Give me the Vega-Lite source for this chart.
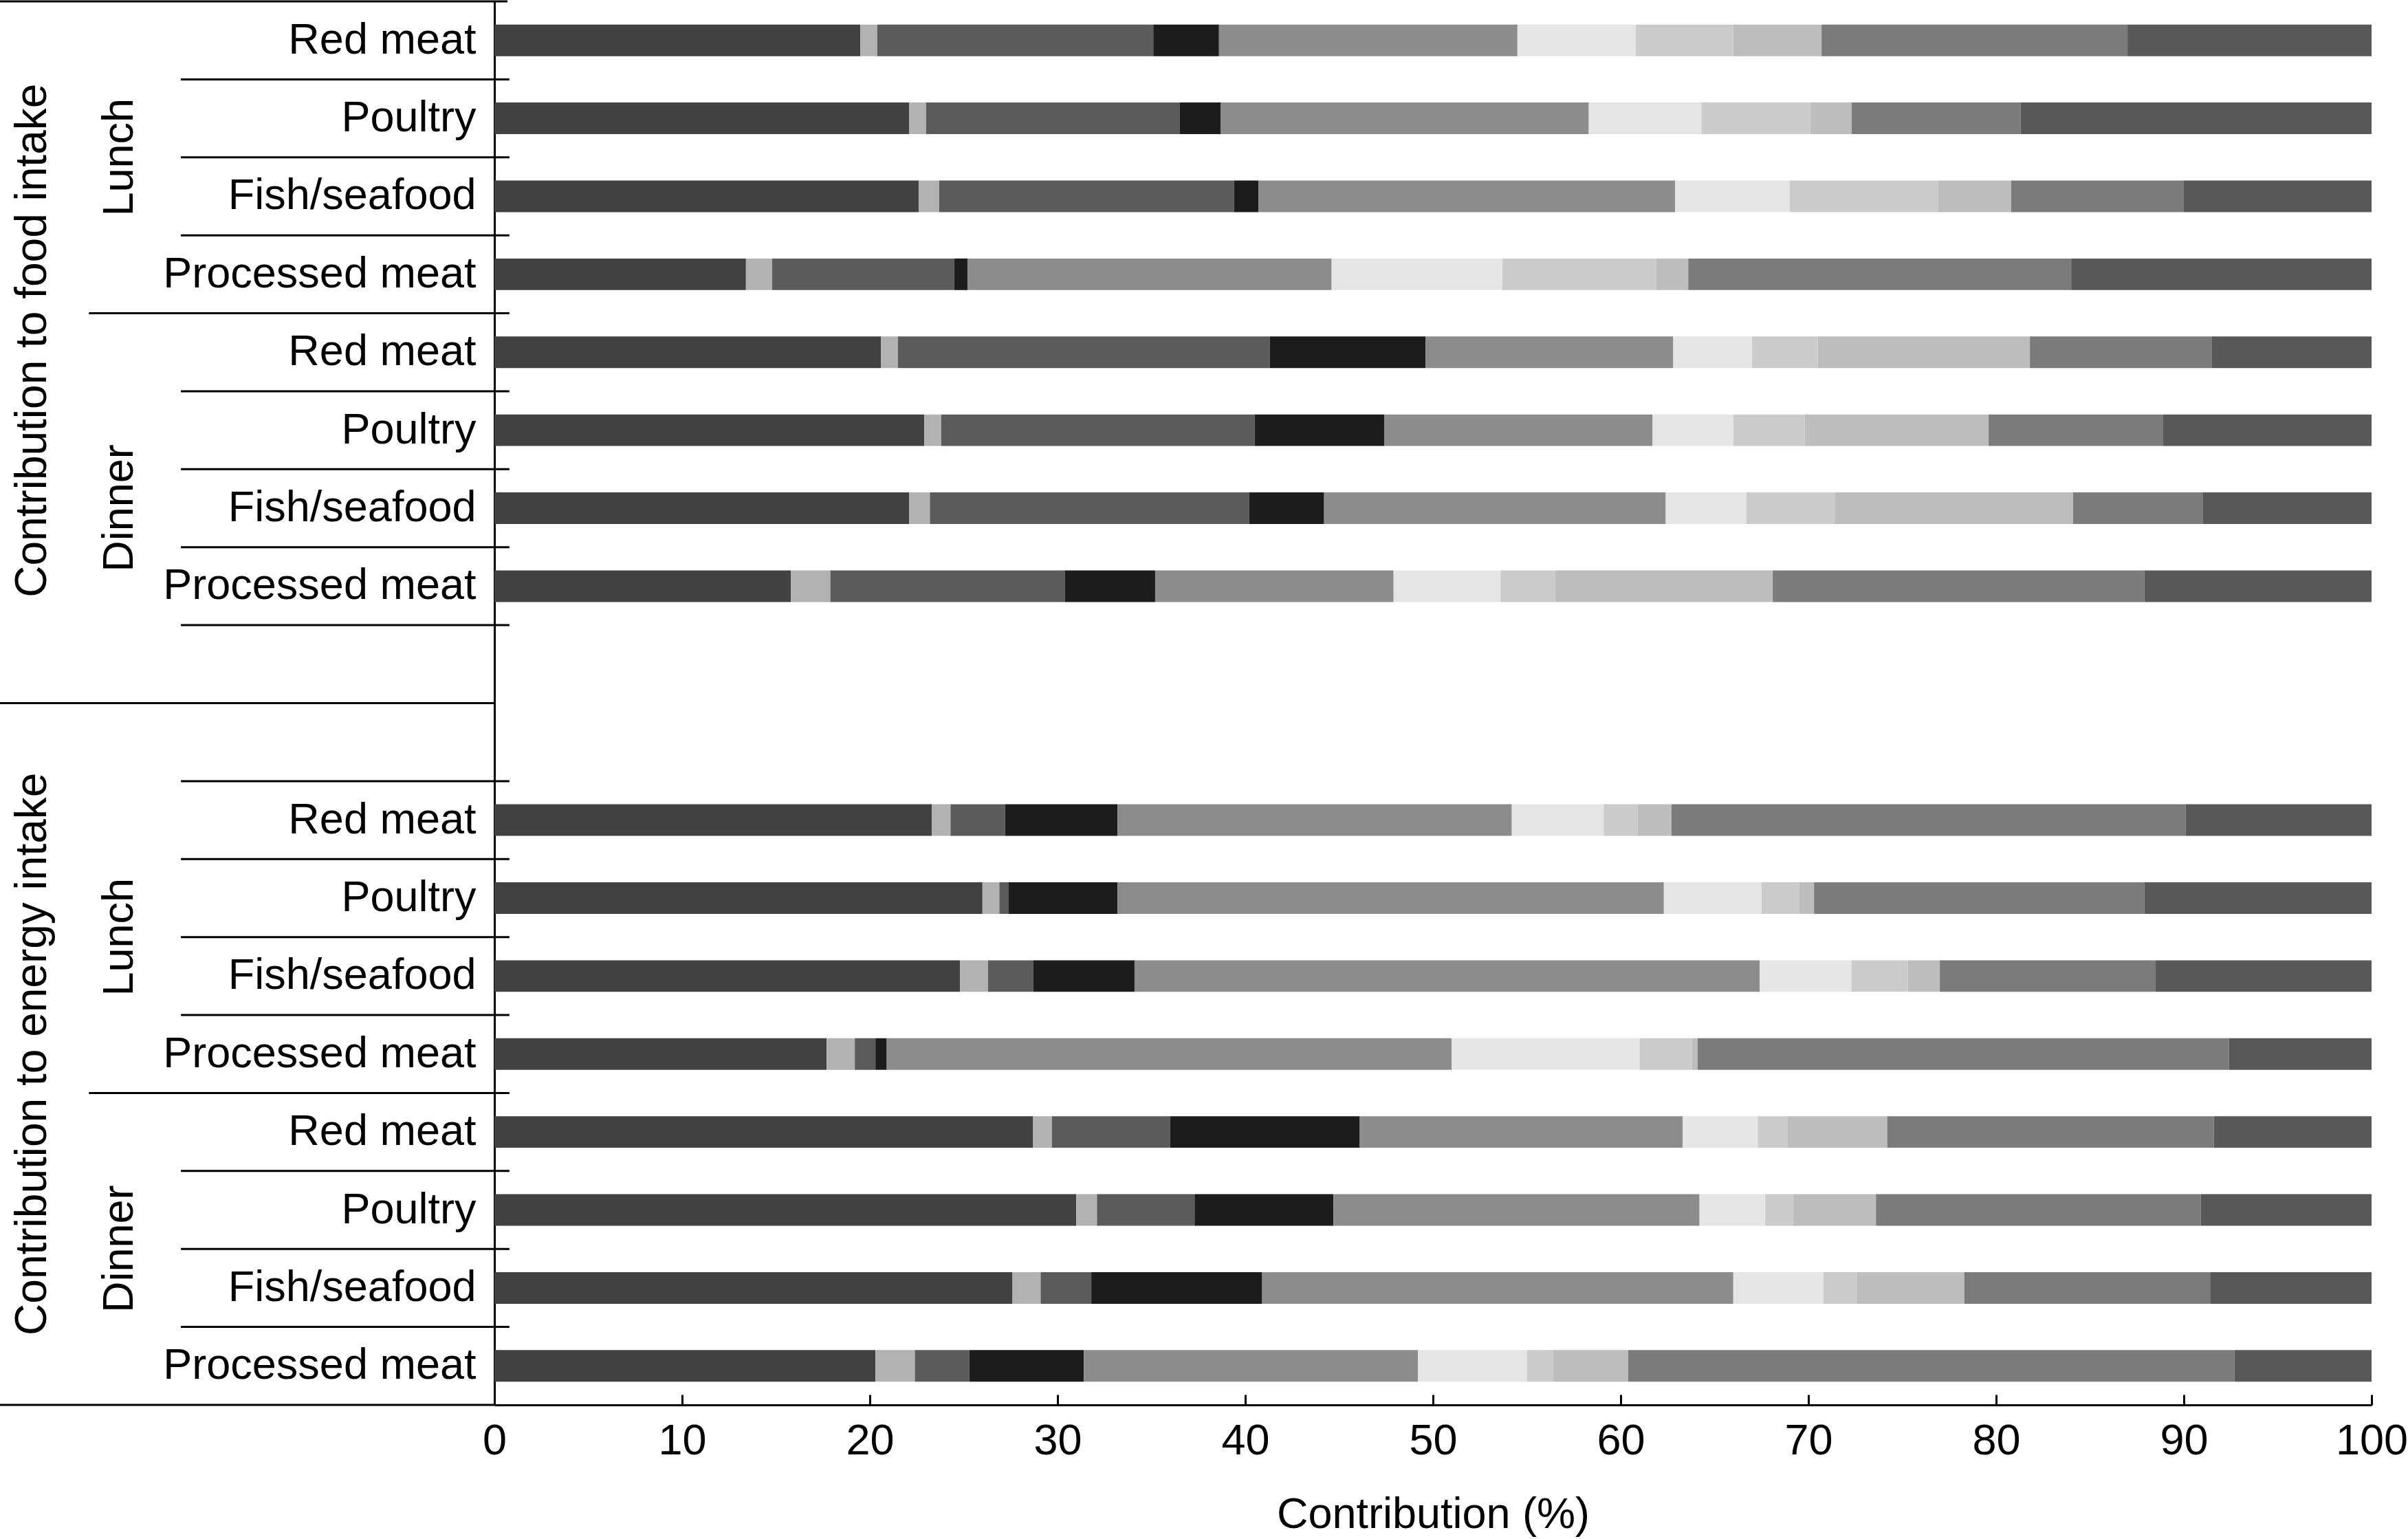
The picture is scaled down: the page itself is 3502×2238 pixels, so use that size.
{
  "$schema": "https://vega.github.io/schema/vega-lite/v6.json",
  "width": 2730,
  "height": 2041,
  "autosize": "none",
  "padding": {"left": 719, "top": 2, "right": 53, "bottom": 195},
  "background": "white",
  "config": {
    "view": {"stroke": null},
    "font": "Liberation Sans",
    "text": {"font": "Liberation Sans"}
  },
  "layer": [
    {
      "data": {
        "values": [
          {"row": "F|Lunch|Red meat", "c01": 19.5, "c02": 0.9, "c03": 14.7, "c04": 3.5, "c05": 15.9, "c06": 6.3, "c07": 5.2, "c08": 4.7, "c09": 16.3, "c10": 13.0},
          {"row": "F|Lunch|Poultry", "c01": 22.1, "c02": 0.9, "c03": 13.5, "c04": 2.2, "c05": 19.6, "c06": 6.0, "c07": 5.8, "c08": 2.2, "c09": 9.0, "c10": 18.7},
          {"row": "F|Lunch|Fish/seafood", "c01": 22.6, "c02": 1.1, "c03": 15.7, "c04": 1.3, "c05": 22.2, "c06": 6.1, "c07": 7.9, "c08": 3.9, "c09": 9.2, "c10": 10.0},
          {"row": "F|Lunch|Processed meat", "c01": 13.4, "c02": 1.4, "c03": 9.7, "c04": 0.7, "c05": 19.4, "c06": 9.1, "c07": 8.2, "c08": 1.7, "c09": 20.4, "c10": 16.0},
          {"row": "F|Dinner|Red meat", "c01": 20.6, "c02": 0.9, "c03": 19.8, "c04": 8.3, "c05": 13.2, "c06": 4.2, "c07": 3.5, "c08": 11.3, "c09": 9.7, "c10": 8.5},
          {"row": "F|Dinner|Poultry", "c01": 22.9, "c02": 0.9, "c03": 16.7, "c04": 6.9, "c05": 14.3, "c06": 4.3, "c07": 3.8, "c08": 9.8, "c09": 9.3, "c10": 11.1},
          {"row": "F|Dinner|Fish/seafood", "c01": 22.1, "c02": 1.1, "c03": 17.0, "c04": 4.0, "c05": 18.2, "c06": 4.3, "c07": 4.7, "c08": 12.7, "c09": 6.9, "c10": 9.0},
          {"row": "F|Dinner|Processed meat", "c01": 15.8, "c02": 2.1, "c03": 12.5, "c04": 4.8, "c05": 12.7, "c06": 5.7, "c07": 2.9, "c08": 11.6, "c09": 19.8, "c10": 12.1},
          {"row": "E|Lunch|Red meat", "c01": 23.3, "c02": 1.0, "c03": 2.9, "c04": 6.0, "c05": 21.0, "c06": 4.9, "c07": 1.8, "c08": 1.8, "c09": 27.4, "c10": 9.9},
          {"row": "E|Lunch|Poultry", "c01": 26.0, "c02": 0.9, "c03": 0.5, "c04": 5.8, "c05": 29.1, "c06": 5.2, "c07": 2.0, "c08": 0.8, "c09": 17.6, "c10": 12.1},
          {"row": "E|Lunch|Fish/seafood", "c01": 24.8, "c02": 1.5, "c03": 2.4, "c04": 5.4, "c05": 33.3, "c06": 4.9, "c07": 3.0, "c08": 1.7, "c09": 11.5, "c10": 11.5},
          {"row": "E|Lunch|Processed meat", "c01": 17.7, "c02": 1.5, "c03": 1.1, "c04": 0.6, "c05": 30.1, "c06": 10.0, "c07": 2.8, "c08": 0.3, "c09": 28.3, "c10": 7.6},
          {"row": "E|Dinner|Red meat", "c01": 28.7, "c02": 1.0, "c03": 6.3, "c04": 10.1, "c05": 17.2, "c06": 4.0, "c07": 1.6, "c08": 5.3, "c09": 17.4, "c10": 8.4},
          {"row": "E|Dinner|Poultry", "c01": 31.0, "c02": 1.1, "c03": 5.2, "c04": 7.4, "c05": 19.5, "c06": 3.5, "c07": 1.5, "c08": 4.4, "c09": 17.3, "c10": 9.1},
          {"row": "E|Dinner|Fish/seafood", "c01": 27.6, "c02": 1.5, "c03": 2.7, "c04": 9.1, "c05": 25.1, "c06": 4.8, "c07": 1.8, "c08": 5.7, "c09": 13.1, "c10": 8.6},
          {"row": "E|Dinner|Processed meat", "c01": 20.3, "c02": 2.1, "c03": 2.9, "c04": 6.1, "c05": 17.8, "c06": 5.8, "c07": 1.4, "c08": 4.0, "c09": 32.3, "c10": 7.3}
        ]
      },
      "transform": [
        {"fold": ["c01", "c02", "c03", "c04", "c05", "c06", "c07", "c08", "c09", "c10"], "as": ["cat", "val"]}
      ],
      "mark": {"type": "bar", "height": {"band": 0.405}},
      "encoding": {
        "y": {
          "field": "row", "type": "nominal", "title": null,
          "scale": {
            "domain": ["F|Lunch|Red meat", "F|Lunch|Poultry", "F|Lunch|Fish/seafood", "F|Lunch|Processed meat", "F|Dinner|Red meat", "F|Dinner|Poultry", "F|Dinner|Fish/seafood", "F|Dinner|Processed meat", "gap1", "gap2", "E|Lunch|Red meat", "E|Lunch|Poultry", "E|Lunch|Fish/seafood", "E|Lunch|Processed meat", "E|Dinner|Red meat", "E|Dinner|Poultry", "E|Dinner|Fish/seafood", "E|Dinner|Processed meat"],
            "paddingInner": 0, "paddingOuter": 0
          },
          "axis": {
            "ticks": false, "grid": false, "domain": true, "domainColor": "black", "domainWidth": 3,
            "labelFontSize": 63, "labelColor": "black", "labelPadding": 27, "labelLimit": 2000,
            "labelFont": "Liberation Sans",
            "labelExpr": "length(split(datum.value,'|')) > 2 ? split(datum.value,'|')[2] : ''"
          }
        },
        "x": {
          "field": "val", "type": "quantitative", "stack": "zero",
          "scale": {"domain": [0, 100], "nice": false},
          "axis": {
            "values": [0, 10, 20, 30, 40, 50, 60, 70, 80, 90, 100],
            "grid": false, "domainColor": "black", "domainWidth": 3,
            "tickColor": "black", "tickWidth": 3, "tickSize": -15,
            "labelFontSize": 63, "labelColor": "black", "labelPadding": 36, "labelFont": "Liberation Sans",
            "labelFlush": false, "labelOverlap": false,
            "title": "Contribution (%)", "titleFontSize": 63, "titleFont": "Liberation Sans",
            "titleFontWeight": "normal", "titleColor": "black", "titlePadding": 44
          }
        },
        "color": {
          "field": "cat", "type": "nominal", "legend": null,
          "scale": {
            "domain": ["c01", "c02", "c03", "c04", "c05", "c06", "c07", "c08", "c09", "c10"],
            "range": ["#414141", "#b2b2b2", "#5b5b5b", "#1c1c1c", "#8c8c8c", "#e5e5e5", "#cbcbcb", "#bdbdbd", "#7b7b7b", "#585858"]
          }
        },
        "order": {"field": "cat", "type": "nominal"}
      }
    },
    {
      "data": {"values": [
        {"row": "F|Lunch|Red meat"}, {"row": "F|Lunch|Poultry"}, {"row": "F|Lunch|Fish/seafood"},
        {"row": "F|Dinner|Red meat"}, {"row": "F|Dinner|Poultry"}, {"row": "F|Dinner|Fish/seafood"}, {"row": "F|Dinner|Processed meat"},
        {"row": "gap2"}, {"row": "E|Lunch|Red meat"}, {"row": "E|Lunch|Poultry"}, {"row": "E|Lunch|Fish/seafood"},
        {"row": "E|Dinner|Red meat"}, {"row": "E|Dinner|Poultry"}, {"row": "E|Dinner|Fish/seafood"}
      ]},
      "mark": {"type": "rule", "color": "black", "strokeWidth": 3},
      "encoding": {
        "y": {"field": "row", "type": "nominal", "bandPosition": 1, "title": null},
        "x": {"datum": -16.7},
        "x2": {"datum": 0.8}
      }
    },
    {
      "data": {"values": [{"row": "F|Lunch|Processed meat"}, {"row": "E|Lunch|Processed meat"}]},
      "mark": {"type": "rule", "color": "black", "strokeWidth": 3},
      "encoding": {
        "y": {"field": "row", "type": "nominal", "bandPosition": 1, "title": null},
        "x": {"datum": -21.6},
        "x2": {"datum": 0.8}
      }
    },
    {
      "data": {"values": [{"row": "F|Lunch|Red meat"}]},
      "mark": {"type": "rule", "color": "black", "strokeWidth": 3},
      "encoding": {
        "y": {"field": "row", "type": "nominal", "bandPosition": 0, "title": null},
        "x": {"datum": -26.4},
        "x2": {"datum": 0.7}
      }
    },
    {
      "data": {"values": [{"row": "gap1"}, {"row": "E|Dinner|Processed meat"}]},
      "mark": {"type": "rule", "color": "black", "strokeWidth": 3},
      "encoding": {
        "y": {"field": "row", "type": "nominal", "bandPosition": 1, "title": null},
        "x": {"datum": -26.4},
        "x2": {"datum": 0}
      }
    },
    {
      "data": {"values": [
        {"row": "F|Lunch|Poultry", "label": "Lunch"},
        {"row": "E|Lunch|Poultry", "label": "Lunch"},
        {"row": "E|Dinner|Poultry", "label": "Dinner"}
      ]},
      "mark": {"type": "text", "angle": 270, "align": "center", "baseline": "alphabetic", "fontSize": 63, "font": "Liberation Sans", "color": "black"},
      "encoding": {
        "y": {"field": "row", "type": "nominal", "bandPosition": 1, "title": null},
        "x": {"datum": -19.27},
        "text": {"field": "label"}
      }
    },
    {
      "data": {"values": [{"row": "F|Dinner|Fish/seafood", "label": "Dinner"}]},
      "mark": {"type": "text", "angle": 270, "align": "center", "baseline": "alphabetic", "fontSize": 63, "font": "Liberation Sans", "color": "black"},
      "encoding": {
        "y": {"field": "row", "type": "nominal", "bandPosition": 0.5, "title": null},
        "x": {"datum": -19.27},
        "text": {"field": "label"}
      }
    },
    {
      "data": {"values": [{"row": "F|Dinner|Red meat", "label": "Contribution to food intake"}]},
      "mark": {"type": "text", "angle": 270, "align": "center", "baseline": "alphabetic", "fontSize": 64, "font": "Liberation Sans", "color": "black"},
      "encoding": {
        "y": {"field": "row", "type": "nominal", "bandPosition": 0.35, "title": null},
        "x": {"datum": -23.88},
        "text": {"field": "label"}
      }
    },
    {
      "data": {"values": [{"row": "E|Lunch|Processed meat", "label": "Contribution to energy intake"}]},
      "mark": {"type": "text", "angle": 270, "align": "center", "baseline": "alphabetic", "fontSize": 64, "font": "Liberation Sans", "color": "black"},
      "encoding": {
        "y": {"field": "row", "type": "nominal", "bandPosition": 0.5, "title": null},
        "x": {"datum": -23.88},
        "text": {"field": "label"}
      }
    }
  ]
}
